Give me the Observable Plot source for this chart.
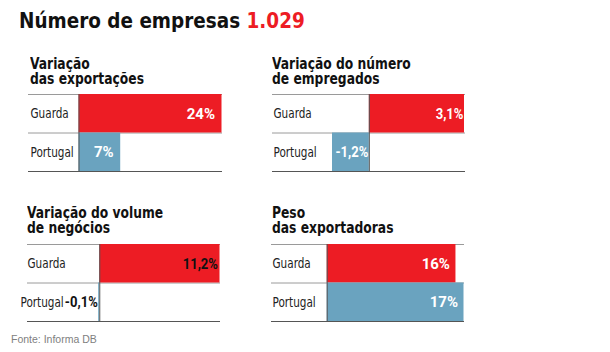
<!DOCTYPE html>
<html><head><meta charset="utf-8">
<script src="https://cdn.jsdelivr.net/npm/d3@7"></script>
<script src="https://cdn.jsdelivr.net/npm/@observablehq/plot@0.6"></script>
<style>
body{margin:0;background:#fff;}
#chart{position:relative;width:610px;height:352px;overflow:hidden;background:#fff;font-family:"DejaVu Sans Condensed","DejaVu Sans",sans-serif;}
.title{position:absolute;left:19px;top:6px;font-size:22px;font-weight:bold;line-height:30px;height:30px;color:#111;white-space:nowrap;transform:scaleX(0.93);transform-origin:0 0;}
.title span{color:#ED1C24}
.pline{position:absolute;font-size:15px;font-weight:bold;line-height:15px;height:15px;color:#111;white-space:nowrap;transform:scaleX(0.912);transform-origin:0 0;}
.panel{position:absolute}
.src{position:absolute;left:11px;top:333px;font-family:"Liberation Sans",Arial,sans-serif;font-size:10.5px;color:#808080;white-space:nowrap}
</style></head><body><div id="chart"></div>
<script>
const headline = "Número de empresas";
const empresas = "1.029";
const source = "Fonte: Informa DB";
const categories = ["Guarda", "Portugal"];
const seriesColors = ["#ED1C24", "#6AA3BF"];
const panelTitles = [
  ["Variação", "das exportações"],
  ["Variação do número", "de empregados"],
  ["Variação do volume", "de negócios"],
  ["Peso", "das exportadoras"]
];
const exportacoes = [24, 7];
const empregados = [3.1, -1.2];
const negocios = [11.2, -0.1];
const pesoExportadoras = [16, 17];

const chart = document.getElementById("chart");
const catFont = '"DejaVu Sans Condensed","DejaVu Sans",sans-serif';
const valFont = 'Roboto,"DejaVu Sans Condensed",sans-serif';

const t = document.createElement("div");
t.className = "title";
t.innerHTML = headline + " <span>" + empresas + "</span>";
chart.appendChild(t);

const fmt = v => String(v).replace(".", ",") + "%";

const panels = [
  {values: exportacoes, left: 28, top: 93, width: 194, ml: 0, range: [50.5, 193.5], tl: 30, tt: 57, labelFill: "#fff", labelDx: -7, catDx: [2, 2]},
  {values: empregados, left: 272, top: 93, width: 193, ml: 0, range: [60, 192], tl: 272, tt: 57, labelFill: "#fff", labelDx: -1, catDx: [1, 1]},
  {values: negocios, left: 18, top: 243, width: 202, ml: 9, range: [80.2, 201.5], tl: 27, tt: 206, labelFill: "#111", labelDx: -2, catDx: [0, -7]},
  {values: pesoExportadoras, left: 271, top: 243, width: 193, ml: 0, range: [55.7, 192.5], tl: 272, tt: 206, labelFill: "#fff", labelDx: -6, catDx: [1, 1]}
];

panels.forEach((cfg, p) => {
  panelTitles[p].forEach((line, k) => {
    const pt = document.createElement("div");
    pt.className = "pline";
    pt.style.left = cfg.tl + "px";
    pt.style.top = (cfg.tt + 15 * k) + "px";
    pt.textContent = line;
    chart.appendChild(pt);
  });

  const rows = categories.map((c, i) => ({cat: c, value: cfg.values[i], i}));
  const n = categories.length;
  const svg = Plot.plot({
    width: cfg.width, height: 79,
    marginTop: 1, marginBottom: 1, marginLeft: cfg.ml, marginRight: 0,
    x: {domain: d3.extent([0, ...cfg.values]), range: cfg.range, axis: null},
    y: {domain: [0, n], range: [1, 78], axis: null},
    color: {domain: categories, range: seriesColors},
    style: {fontFamily: catFont, background: "transparent", overflow: "visible"},
    marks: [
      Plot.ruleY(d3.range(n), {stroke: "#9a9a9a"}),
      Plot.ruleY([n], {stroke: "#555"}),
      Plot.rect(rows, {x1: 0, x2: "value", y1: "i", y2: d => d.i + 1, fill: "cat"}),
      Plot.ruleX([0], {y1: 0, y2: n, stroke: "#555"}),
      ...rows.map((r, k) => Plot.text([r], {frameAnchor: "left", y: d => d.i + 0.5, text: "cat", dx: cfg.catDx[k], fill: "#222", fontSize: 14})),
      Plot.text(rows, {x: d => Math.max(0, d.value), y: d => d.i + 0.5, text: d => fmt(d.value), textAnchor: "end", dx: cfg.labelDx, fill: cfg.labelFill, fontWeight: "bold", fontSize: 15, fontFamily: valFont})
    ]
  });
  const wrap = document.createElement("div");
  wrap.className = "panel";
  wrap.style.left = cfg.left + "px";
  wrap.style.top = cfg.top + "px";
  wrap.appendChild(svg);
  chart.appendChild(wrap);

  // condense glyphs horizontally (about each label's anchor) to mimic the narrow newspaper typeface
  svg.querySelectorAll("text").forEach(el => {
    const s = el.textContent;
    let f = 1;
    if (categories.includes(s)) f = 0.83;
    else if (s.includes(",")) f = 0.87;
    if (f === 1) return;
    el.setAttribute("transform", (el.getAttribute("transform") || "") + ` scale(${f},1)`);
  });
});

const s = document.createElement("div");
s.className = "src";
s.textContent = source;
chart.appendChild(s);
</script></body></html>
